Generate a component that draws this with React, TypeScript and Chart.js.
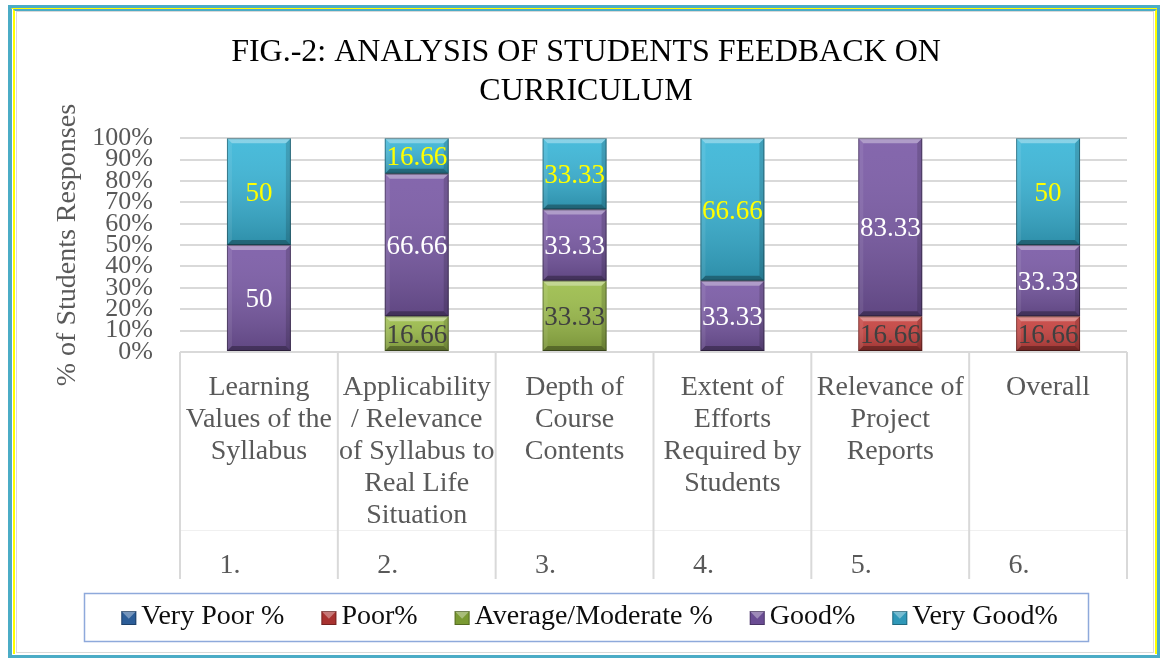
import React, { useEffect, useRef } from 'react';
import { Chart, registerables } from 'chart.js';

Chart.register(...registerables);

const FONT = '"Liberation Serif", "Times New Roman", serif';

const categories: string[][] = [
  ['Learning', 'Values of the', 'Syllabus'],
  ['Applicability', '/ Relevance', 'of Syllabus to', 'Real Life', 'Situation'],
  ['Depth of', 'Course', 'Contents'],
  ['Extent of', 'Efforts', 'Required by', 'Students'],
  ['Relevance of', 'Project', 'Reports'],
  ['Overall'],
];
const groupNumbers = ['1.', '2.', '3.', '4.', '5.', '6.'];

const seriesNames = ['Very Poor %', 'Poor%', 'Average/Moderate %', 'Good%', 'Very Good%'];
const veryPoor = [0, 0, 0, 0, 0, 0];
const poor = [0, 0, 0, 0, 16.66, 16.66];
const average = [0, 16.66, 33.33, 0, 0, 0];
const good = [50, 66.66, 33.33, 33.33, 83.33, 33.33];
const veryGood = [50, 16.66, 33.33, 66.66, 0, 50];

const seriesColors = ['#3F72B0', '#C8423F', '#9CBD4A', '#7A5AA6', '#3AB6D8'];
const legendColors = ['#2C5D98', '#A83230', '#7A9A32', '#6A4C93', '#2F98B8'];
const labelColors = ['#404040', '#404040', '#404040', '#FFFFFF', '#FFFF00'];

const yTickStep = 10;

const rawSeries = [veryPoor, poor, average, good, veryGood];
const totals = categories.map((_, j) => rawSeries.reduce((s, arr) => s + arr[j], 0));

function poly(ctx: CanvasRenderingContext2D, pts: number[][], fill: string) {
  ctx.beginPath();
  ctx.moveTo(pts[0][0], pts[0][1]);
  for (let i = 1; i < pts.length; i++) ctx.lineTo(pts[i][0], pts[i][1]);
  ctx.closePath();
  ctx.fillStyle = fill;
  ctx.fill();
}

const barDecor = {
  id: 'barDecor',
  afterDatasetsDraw(chart: any) {
    const ctx: CanvasRenderingContext2D = chart.ctx;
    ctx.save();
    chart.data.datasets.forEach((ds: any, i: number) => {
      const meta = chart.getDatasetMeta(i);
      meta.data.forEach((bar: any) => {
        const { x, y, base, width } = bar.getProps(['x', 'y', 'base', 'width'], true);
        const top = Math.min(y, base);
        const bottom = Math.max(y, base);
        const h = bottom - top;
        if (h < 0.5) return;
        const left = x - width / 2;
        const right = x + width / 2;
        const g = ctx.createLinearGradient(0, top, 0, bottom);
        g.addColorStop(0, 'rgba(255,255,255,0.08)');
        g.addColorStop(1, 'rgba(0,0,0,0.22)');
        ctx.fillStyle = g;
        ctx.fillRect(left, top, width, h);
        const b = Math.min(5, h / 3);
        poly(ctx, [[left, top], [right, top], [right - b, top + b], [left + b, top + b]], 'rgba(255,255,255,0.35)');
        poly(ctx, [[left, bottom], [right, bottom], [right - b, bottom - b], [left + b, bottom - b]], 'rgba(0,0,0,0.30)');
        poly(ctx, [[left, top], [left + b, top + b], [left + b, bottom - b], [left, bottom]], 'rgba(255,255,255,0.08)');
        poly(ctx, [[right, top], [right - b, top + b], [right - b, bottom - b], [right, bottom]], 'rgba(0,0,0,0.15)');
        ctx.strokeStyle = 'rgba(0,0,0,0.35)';
        ctx.lineWidth = 1;
        ctx.strokeRect(left + 0.5, top + 0.5, width - 1, h - 1);
      });
    });
    ctx.font = `27px ${FONT}`;
    ctx.textAlign = 'center';
    ctx.textBaseline = 'middle';
    chart.data.datasets.forEach((ds: any, i: number) => {
      const meta = chart.getDatasetMeta(i);
      meta.data.forEach((bar: any, j: number) => {
        const v = ds.rawValues[j];
        if (!v) return;
        const { x, y, base } = bar.getProps(['x', 'y', 'base'], true);
        ctx.fillStyle = labelColors[i];
        ctx.fillText(String(v), x, (y + base) / 2 + 2);
      });
    });
    ctx.restore();
  },
};

const axisDecor = {
  id: 'axisDecor',
  afterDraw(chart: any) {
    const ctx: CanvasRenderingContext2D = chart.ctx;
    const xs = chart.scales.x;
    const area = chart.chartArea;
    const n = categories.length;
    const bottom = xs.bottom + 1;
    ctx.save();
    ctx.strokeStyle = '#F0F0F0';
    ctx.lineWidth = 1;
    ctx.beginPath();
    ctx.moveTo(area.left, bottom - 48.5);
    ctx.lineTo(area.right, bottom - 48.5);
    ctx.stroke();
    ctx.strokeStyle = '#D9D9D9';
    ctx.lineWidth = 2;
    for (let i = 0; i <= n; i++) {
      const px = xs.getPixelForValue(i - 0.5);
      ctx.beginPath();
      ctx.moveTo(px, area.bottom);
      ctx.lineTo(px, bottom);
      ctx.stroke();
    }
    ctx.font = `28px ${FONT}`;
    ctx.fillStyle = '#595959';
    ctx.textAlign = 'center';
    ctx.textBaseline = 'middle';
    groupNumbers.forEach((t, i) => {
      ctx.fillText(t, xs.getPixelForValue(i) - 29, bottom - 13);
    });

    // legend
    const boxL = 84.5, boxT = 593.5, boxR = 1088.5, boxB = 641.5;
    ctx.strokeStyle = '#8EA9DB';
    ctx.lineWidth = 1.5;
    ctx.strokeRect(boxL, boxT, boxR - boxL, boxB - boxT);
    ctx.font = `28px ${FONT}`;
    const mw = 15, mh = 14, gap = 5, itemGap = 37;
    const widths = chart.data.datasets.map((d: any) => ctx.measureText(d.label).width);
    const total = widths.reduce((s: number, w: number) => s + mw + gap + w, 0) + itemGap * (widths.length - 1);
    let cx = (boxL + boxR) / 2 + 3 - total / 2;
    const cy = 618;
    ctx.textAlign = 'left';
    chart.data.datasets.forEach((d: any, i: number) => {
      const mx = cx, my = cy - mh / 2;
      ctx.fillStyle = legendColors[i];
      ctx.fillRect(mx, my, mw, mh);
      poly(ctx, [[mx, my], [mx + mw, my], [mx + mw / 2, my + mh * 0.55]], 'rgba(255,255,255,0.35)');
      ctx.strokeStyle = 'rgba(0,0,0,0.3)';
      ctx.lineWidth = 1;
      ctx.strokeRect(mx + 0.5, my + 0.5, mw - 1, mh - 1);
      ctx.fillStyle = '#0d0d0d';
      ctx.fillText(d.label, mx + mw + gap, cy - 1);
      cx += mw + gap + widths[i] + itemGap;
    });
    ctx.restore();
  },
};

export default function App() {
  const canvasRef = useRef<HTMLCanvasElement | null>(null);

  useEffect(() => {
    if (!canvasRef.current) return;
    Chart.defaults.font.family = FONT;
    const datasets = rawSeries.map((arr, i) => ({
      label: seriesNames[i],
      data: arr.map((v, j) => (totals[j] ? (v / totals[j]) * 100 : 0)),
      rawValues: arr,
      backgroundColor: seriesColors[i],
      borderWidth: 0,
      categoryPercentage: 1,
      barPercentage: 0.405,
    }));
    const chart = new Chart(canvasRef.current, {
      type: 'bar',
      data: { labels: categories, datasets: datasets as any },
      options: {
        responsive: false,
        animation: false,
        events: [],
        layout: { padding: { left: 45, right: 33, top: 11, bottom: 80 } },
        plugins: {
          legend: { display: false },
          tooltip: { enabled: false },
          title: {
            display: true,
            text: ['FIG.-2: ANALYSIS OF STUDENTS FEEDBACK ON', 'CURRICULUM'],
            color: '#000000',
            font: { size: 32, weight: 'normal', lineHeight: 1.19, family: FONT },
            padding: { top: 23, bottom: 28 },
          },
        },
        scales: {
          x: {
            type: 'category',
            stacked: true,
            offset: true,
            grid: { display: false },
            border: { display: false },
            ticks: {
              color: '#595959',
              font: { size: 28, lineHeight: 32 / 28, family: FONT },
              padding: 12,
              maxRotation: 0,
              minRotation: 0,
              autoSkip: false,
            },
            afterFit: (s: any) => {
              s.height = 226;
            },
          },
          y: {
            stacked: true,
            min: 0,
            max: 100,
            border: { display: false },
            grid: { color: '#D9D9D9', lineWidth: 2, drawTicks: false },
            ticks: {
              stepSize: yTickStep,
              autoSkip: false,
              color: '#595959',
              font: { size: 26, family: FONT },
              padding: 27,
              callback: (v: any) => `${v}%`,
            },
            title: {
              display: true,
              text: '% of Students Responses',
              color: '#595959',
              font: { size: 28, family: FONT, lineHeight: 1.2 },
              padding: { top: 6, bottom: 0 },
            },
            afterFit: (s: any) => {
              s.width = 135;
            },
          },
        },
      } as any,
      plugins: [barDecor, axisDecor],
    });
    return () => chart.destroy();
  }, []);

  const fixed: React.CSSProperties = { position: 'fixed', boxSizing: 'border-box', pointerEvents: 'none' };

  return (
    <div style={{ position: 'fixed', left: 0, top: 0, width: 1160, height: 658, background: '#ffffff' }}>
      <canvas
        ref={canvasRef}
        width={1160}
        height={658}
        style={{ position: 'absolute', left: 0, top: 0, width: 1160, height: 658 }}
      />
      <div style={{ ...fixed, left: 8, top: 5, width: 1152, height: 653, border: '3px solid #4BACC6' }} />
      <div style={{ ...fixed, left: 11, top: 8, width: 1146, height: 647, borderLeft: '1px solid #4BACC6', borderTop: '1px solid #FFFF00' }} />
      <div
        style={{
          ...fixed,
          left: 13,
          top: 9,
          width: 1144,
          height: 645,
          borderLeft: '2px solid #FFFF00',
          borderRight: '2px solid #FFFF00',
          borderTop: '2px solid #4BACC6',
        }}
      />
      <div style={{ ...fixed, left: 16, top: 11, width: 1138, height: 642, border: '1.5px solid #D9D9D9' }} />
    </div>
  );
}
